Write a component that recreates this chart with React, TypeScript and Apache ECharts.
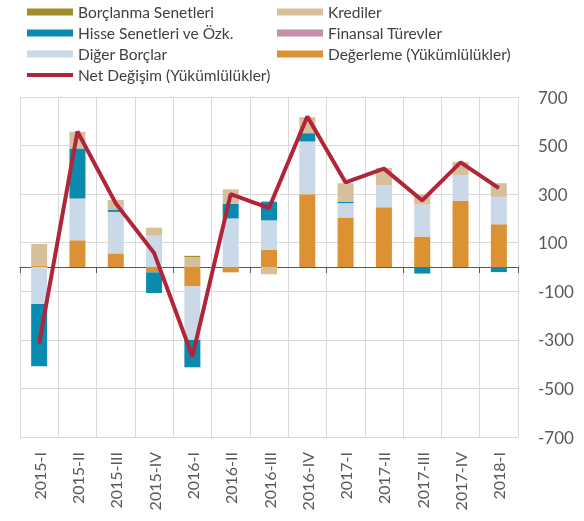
import React, { useEffect, useRef } from "react";
import * as echarts from "echarts";

const categories = ["2015-I", "2015-II", "2015-III", "2015-IV", "2016-I", "2016-II", "2016-III", "2016-IV", "2017-I", "2017-II", "2017-III", "2017-IV", "2018-I"];
const borclanma = [0, 0, 0, 0, 5, 0, 0, 0, 0, 0, 0, 0, 0];
const hisse = [-257, 206, 8, -85, -113, 60, 77, 34, 5, 0, -27, 0, -21];
const diger = [-152, 172, 171, 129, -220, 200, 121, 217, 59, 91, 132, 106, 113];
const krediler = [89, 69, 41, 33, 41, 60, -30, 66, 77, 71, 41, 54, 56];
const finansal = [0, 0, 0, 0, 0, 0, 0, 0, 0, 0, 0, 0, 0];
const degerleme = [6, 110, 56, -22, -80, -22, 71, 300, 204, 246, 125, 272, 176];
const netDegisim = [-316, 558, 262, 58, -368, 300, 243, 620, 348, 405, 274, 431, 325];
const tickLabels = [-700, -500, -300, -100, 100, 300, 500, 700];

const FONT = "Lato";
const COLORS = {
  borclanma: "#A08E2A",
  hisse: "#0A8AAE",
  diger: "#C9D9E7",
  krediler: "#D7BF9C",
  finansal: "#C58EA9",
  degerleme: "#DC9232",
  net: "#B02539",
};

const LINE_ICON = "path://M0,0 M46,7 M0,1.5 L46,1.5 L46,5.5 L0,5.5 Z";

export default function App() {
  const ref = useRef<HTMLDivElement>(null);
  useEffect(() => {
    if (!ref.current) return;
    const chart = echarts.init(ref.current, undefined, { renderer: "svg" });
    const bar = (name: string, data: number[], color: string) => ({
      name,
      type: "bar",
      stack: "total",
      data,
      barWidth: 16,
      xAxisIndex: 0,
      yAxisIndex: 0,
      itemStyle: { color },
    });
    const legendText = { fontFamily: FONT, fontSize: 15.5, color: "#404040", lineHeight: 16 };
    const legendBase = {
      orient: "vertical",
      top: 4,
      padding: 0,
      itemWidth: 46,
      itemHeight: 7,
      itemGap: 5,
      textStyle: legendText,
      selectedMode: false,
    };
    chart.setOption({
      animation: false,
      textStyle: { fontFamily: FONT },
      legend: [
        {
          ...legendBase,
          left: 27,
          data: [
            { name: "Borçlanma Senetleri", icon: "rect" },
            { name: "Hisse Senetleri ve Özk.", icon: "rect" },
            { name: "Diğer Borçlar", icon: "rect" },
            { name: "Net Değişim (Yükümlülükler)", icon: LINE_ICON },
          ],
        },
        {
          ...legendBase,
          left: 277,
          data: [
            { name: "Krediler", icon: "rect" },
            { name: "Finansal Türevler", icon: "rect" },
            { name: "Değerleme (Yükümlülükler)", icon: "rect" },
          ],
        },
      ],
      grid: { left: 20, right: 66, top: 97, bottom: 84 },
      xAxis: [
        {
          type: "category",
          data: categories,
          position: "bottom",
          axisLine: { show: false, onZero: false },
          axisTick: { show: false },
          axisLabel: { rotate: 90, fontFamily: FONT, fontSize: 16, color: "#595959", margin: 15 },
          splitLine: { show: true, lineStyle: { color: "#D9D9D9", width: 1 } },
        },
        {
          type: "category",
          data: categories,
          position: "bottom",
          axisLine: { show: true, onZero: true, onZeroAxisIndex: 0, lineStyle: { color: "#595959", width: 1.2 } },
          axisTick: { show: true, length: 6, lineStyle: { color: "#595959" } },
          axisLabel: { show: false },
          splitLine: { show: false },
        },
      ],
      yAxis: [
        { type: "value", min: -700, max: 700, show: false, splitLine: { show: false } },
        {
          type: "value",
          min: 0,
          max: 1400,
          interval: 200,
          position: "right",
          axisLine: { show: false },
          axisTick: { show: false },
          axisLabel: {
            fontFamily: FONT,
            fontSize: 17,
            color: "#595959",
            margin: 20,
            formatter: (v: number) => {
              const t = v - 700;
              return tickLabels.includes(t) ? String(t) : "";
            },
          },
          splitLine: { show: true, lineStyle: { color: "#D9D9D9", width: 1 } },
        },
      ],
      series: [
        bar("Değerleme (Yükümlülükler)", degerleme, COLORS.degerleme),
        bar("Diğer Borçlar", diger, COLORS.diger),
        bar("Hisse Senetleri ve Özk.", hisse, COLORS.hisse),
        bar("Finansal Türevler", finansal, COLORS.finansal),
        bar("Krediler", krediler, COLORS.krediler),
        bar("Borçlanma Senetleri", borclanma, COLORS.borclanma),
        {
          name: "Net Değişim (Yükümlülükler)",
          type: "line",
          data: netDegisim,
          xAxisIndex: 0,
          yAxisIndex: 0,
          symbol: "none",
          itemStyle: { color: COLORS.net },
          lineStyle: { color: COLORS.net, width: 4 },
          z: 5,
        },
      ],
    });
    return () => chart.dispose();
  }, []);
  return <div ref={ref} style={{ position: "fixed", left: 0, top: 0, width: 584, height: 521 }} />;
}
